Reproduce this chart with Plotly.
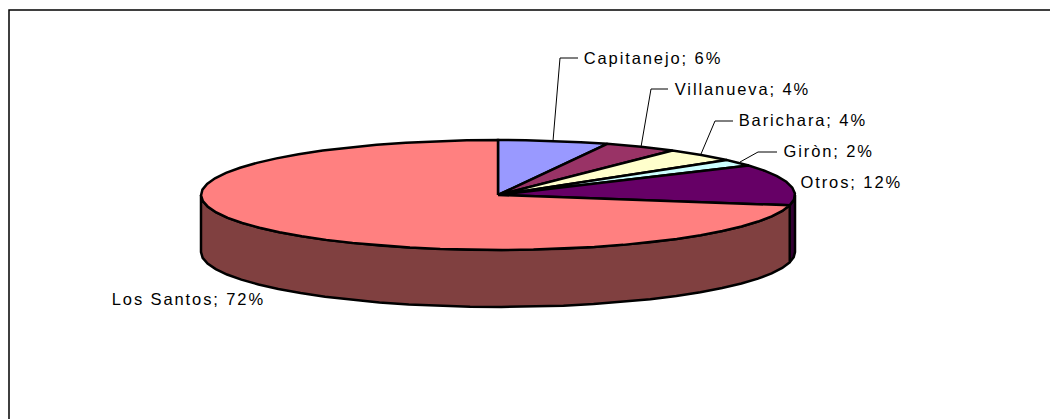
import math
import plotly.graph_objects as go

categories = ["Capitanejo", "Villanueva", "Barichara", "Giròn", "Otros", "Los Santos"]
values = [6, 4, 4, 2, 12, 72]
top_colors = ["#9999FF", "#993366", "#FFFFCC", "#CCFFFF", "#660066", "#FF8080"]
side_colors = ["#4D4D80", "#4D1A33", "#808066", "#668080", "#330033", "#804040"]

# Layout in page pixels: centre, radii and wall height of the tilted disc
CX, CY, RX, RY, DEPTH = 498, 195, 297, 55, 57
STEP = 6
FRAME = dict(x0=9, y0=10, x1=1060, y1=430)

# label centre (x, y) and leader elbow points
label_pos = {
    "Capitanejo": (653, 58),
    "Villanueva": (742, 89),
    "Barichara": (803, 120),
    "Giròn": (829, 151),
    "Otros": (851, 182),
    "Los Santos": (188, 299),
}
leaders = {
    "Capitanejo": [(553, 141), (560, 58), (578, 58)],
    "Villanueva": [(641, 147), (651, 89), (668, 89)],
    "Barichara": [(701, 154), (715, 121), (733, 121)],
    "Giròn": [(740, 162), (758, 152), (777, 152)],
}


def pt(deg, dy=0):
    a = math.radians(deg)
    return CX + RX * math.sin(a), CY - RY * math.cos(a) + dy


def arc(a0, a1, dy=0):
    n = max(1, round(abs(a1 - a0) / STEP))
    return [pt(a0 + (a1 - a0) * i / n, dy) for i in range(n + 1)]


fig = go.Figure()


def poly(points, fill):
    fig.add_trace(go.Scatter(
        x=[p[0] for p in points], y=[p[1] for p in points],
        mode="lines", fill="toself", fillcolor=fill,
        line=dict(color="#000000", width=2.5), hoverinfo="skip", showlegend=False,
    ))


total = sum(values)
spans = []
start = 0.0
for v in values:
    end = start + 360.0 * v / total
    spans.append((start, end))
    start = end

# walls first (only the front half of the disc shows one)
for (a0, a1), c in zip(spans, side_colors):
    lo, hi = max(a0, 90), min(a1, 270)
    if lo < hi:
        poly(arc(lo, hi) + arc(hi, lo, DEPTH) + [pt(lo)], c)

# top faces
for (a0, a1), c in zip(spans, top_colors):
    poly([(CX, CY)] + arc(a0, a1) + [(CX, CY)], c)

for name, pts in leaders.items():
    fig.add_trace(go.Scatter(
        x=[p[0] for p in pts], y=[p[1] for p in pts], mode="lines",
        line=dict(color="#000000", width=1), hoverinfo="skip", showlegend=False,
    ))

annotations = []
for name, v in zip(categories, values):
    x, y = label_pos[name]
    annotations.append(dict(
        x=x, y=y, xref="x", yref="y", text=f"{name}; {v}%", showarrow=False,
        xanchor="center", yanchor="middle",
        font=dict(family="Liberation Sans", size=16.5, color="#000000"),
    ))

fig.update_layout(
    width=1050, height=419, margin=dict(l=0, r=0, t=0, b=0),
    paper_bgcolor="#FFFFFF", plot_bgcolor="#FFFFFF", showlegend=False,
    xaxis=dict(range=[0, 1050], visible=False, fixedrange=True),
    yaxis=dict(range=[419, 0], visible=False, fixedrange=True),
    annotations=annotations,
    shapes=[dict(type="rect", xref="x", yref="y", line=dict(color="#000000", width=1.5),
                 fillcolor="rgba(0,0,0,0)", **FRAME)],
)

page_style = (
    "document.body.style.margin='0';"
    "document.body.style.overflow='hidden';"
    "var s=document.createElement('style');"
    "s.textContent='.annotation-text{letter-spacing:1.9px}';"
    "document.head.appendChild(s);"
)
fig.write_html("out.html", post_script=page_style, config={"displayModeBar": False})
